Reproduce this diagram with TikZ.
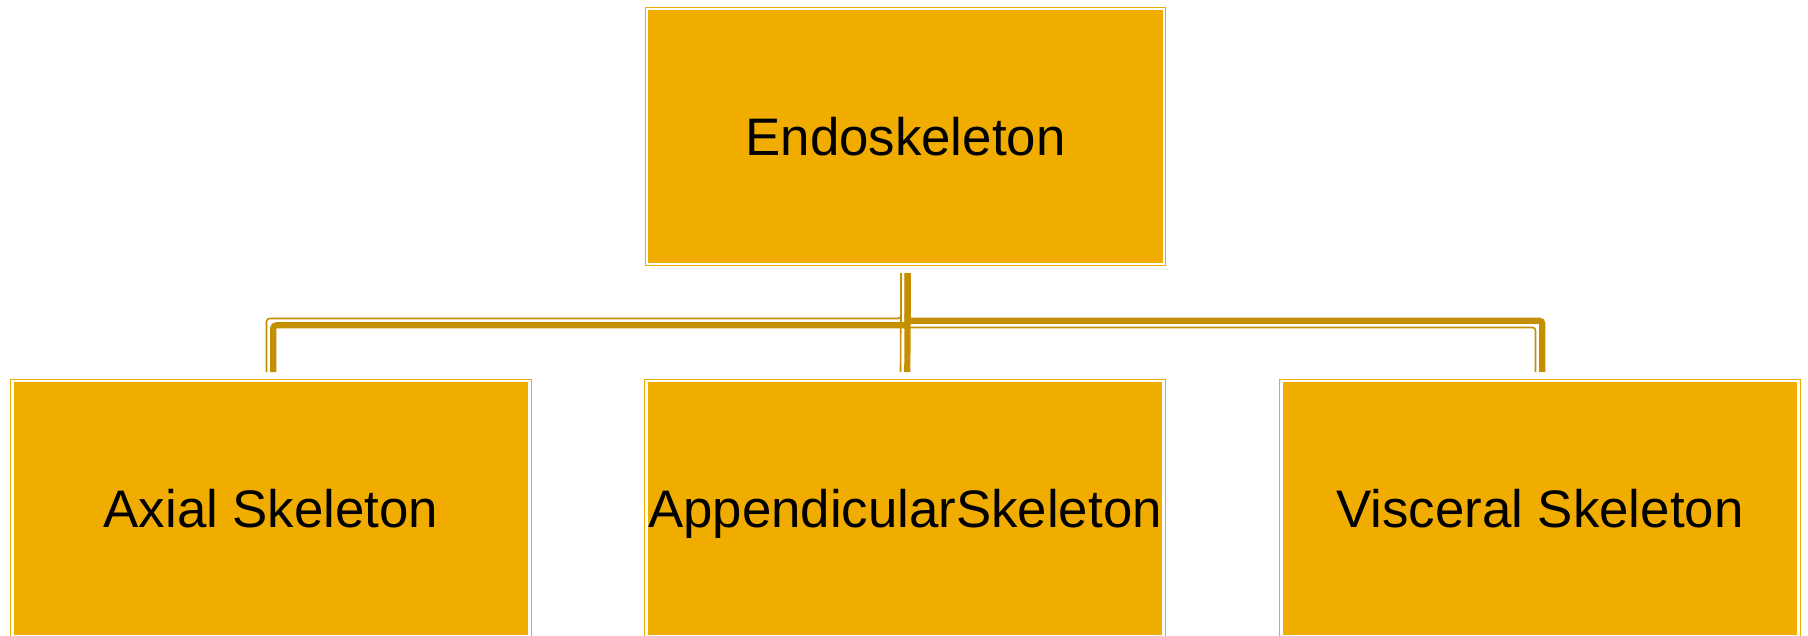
\documentclass[tikz,border=0pt]{standalone}
\usepackage{fontspec}
\setmainfont{Liberation Sans}
\usetikzlibrary{calc}
\definecolor{boxgold}{RGB}{240,173,0}
\definecolor{linkgold}{RGB}{196,143,0}
\tikzset{
  orgbox/.style={draw=boxgold, fill=boxgold, line width=1.2pt, double=white, double distance=2.2pt,
    minimum width=517pt, minimum height=255pt, inner sep=0pt, outer sep=0pt, text depth=0pt,
    font=\fontsize{52.8}{60}\selectfont, text=black},
  thinlink/.style={draw=linkgold, line width=1.6pt, rounded corners=3pt},
  thicklink/.style={draw=linkgold, line width=6.2pt, rounded corners=3pt}
}
\begin{document}
\begin{tikzpicture}[x=1pt,y=-1pt]
\useasboundingbox (0,0) rectangle (1808,635);
\clip (0,0) rectangle (1808,635);
\node[orgbox] (top) at (905.5,136.5) {Endoskeleton};
\node[orgbox] (axial) at (271,508.5) {Axial Skeleton};
\node[orgbox] (append) at (905,508.5) {AppendicularSkeleton};
\node[orgbox] (visc) at (1540,508.5) {Visceral Skeleton};
% left connector: thin on outer (left/top), thick on inner (right/bottom)
\draw[thinlink] ($(top.south)+(-4.5,9)$) |- ($(axial.north)+(-4.5,-62.5)$) -- ($(axial.north)+(-4.5,-9)$);
\draw[thicklink] ($(top.south)+(2.3,9)$) |- ($(axial.north)+(2.3,-55.7)$) -- ($(axial.north)+(2.3,-9)$);
% right connector: thick on outer (top/right), thin on inner (bottom/left)
\draw[thicklink] ($(top.south)+(2.3,9)$) |- ($(visc.north)+(2.3,-60.3)$) -- ($(visc.north)+(2.3,-9)$);
\draw[thinlink] ($(top.south)+(-4.5,9)$) |- ($(visc.north)+(-4.5,-53.5)$) -- ($(visc.north)+(-4.5,-9)$);
% middle connector
\draw[thinlink] ($(top.south)+(-4.5,9)$) -- ($(append.north)+(-4.5,-9)$);
\draw[thicklink] ($(top.south)+(2.3,9)$) -- ($(append.north)+(2.3,-9)$);
\end{tikzpicture}
\end{document}
